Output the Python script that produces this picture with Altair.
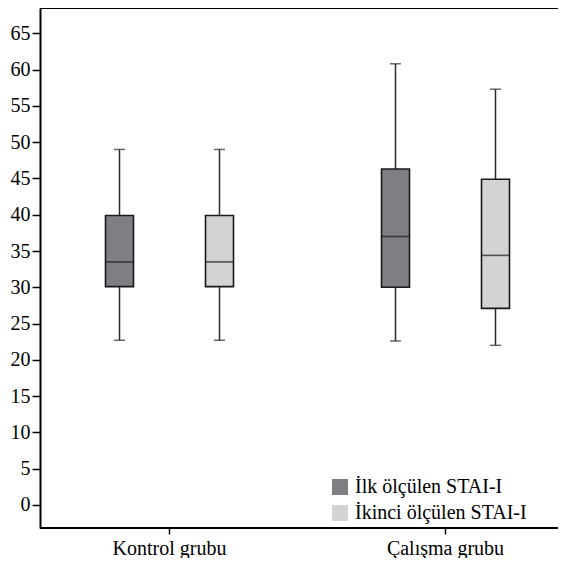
import altair as alt
import pandas as pd

groups = ["Kontrol grubu", "Kontrol grubu", "Çalışma grubu", "Çalışma grubu"]
series = ["İlk ölçülen STAI-I", "İkinci ölçülen STAI-I", "İlk ölçülen STAI-I", "İkinci ölçülen STAI-I"]
mins = [22.7, 22.7, 22.6, 22.0]
q1s = [30.1, 30.1, 30.0, 27.1]
medians = [33.5, 33.5, 37.0, 34.4]
q3s = [39.9, 39.9, 46.3, 44.9]
maxs = [49.0, 49.0, 60.8, 57.3]

group_order = ["Kontrol grubu", "Çalışma grubu"]
series_order = ["İlk ölçülen STAI-I", "İkinci ölçülen STAI-I"]
y_ticks = list(range(0, 70, 5))

df = pd.DataFrame({
    "group": groups, "series": series, "min": mins, "q1": q1s,
    "median": medians, "q3": q3s, "max": maxs,
})

W, H = 518, 520
FONT = "Times New Roman"

x_axis = alt.Axis(title=None, domain=False, labelAngle=0, labelFont=FONT, labelFontSize=20,
                  labelColor="black", tickColor="black", tickSize=6, tickWidth=1.5,
                  labelPadding=4, grid=False, labelOverlap=False)
x_enc = alt.X("group:N", sort=group_order,
              scale=alt.Scale(domain=group_order, range=[-8.5, 543.5], paddingInner=0, paddingOuter=0),
              axis=x_axis)
xo_enc = alt.XOffset("series:N", sort=series_order,
                     scale=alt.Scale(domain=series_order, paddingInner=0, paddingOuter=0.38))
y_scale = alt.Scale(domain=[-3.17, 68.49], nice=False, zero=False)
y_axis = alt.Axis(title=None, values=y_ticks, tickCount=14, labelFont=FONT, labelFontSize=20,
                  labelColor="black", tickColor="black", tickSize=8, tickWidth=1.5,
                  domainColor="black", domainWidth=2, labelPadding=2, grid=False, labelOverlap=False)


def yq(field):
    return alt.Y(f"{field}:Q", scale=y_scale, axis=y_axis)


base = alt.Chart(df)

whiskers = base.mark_rule(color="#2a2a2a", strokeWidth=1.5).encode(
    x=x_enc, xOffset=xo_enc, y=yq("min"), y2="max:Q")

caps_lo = base.mark_tick(color="#2a2a2a", size=11, thickness=1.5).encode(
    x=x_enc, xOffset=xo_enc, y=yq("min"))
caps_hi = base.mark_tick(color="#2a2a2a", size=11, thickness=1.5).encode(
    x=x_enc, xOffset=xo_enc, y=yq("max"))

boxes = base.mark_bar(size=28, stroke="#1a1a1a", strokeWidth=1.6).encode(
    x=x_enc, xOffset=xo_enc,
    y=yq("q1"), y2="q3:Q",
    color=alt.Color("series:N", sort=series_order,
                    scale=alt.Scale(domain=series_order, range=["#7f7f83", "#d3d3d5"]),
                    legend=alt.Legend(title=None, orient="none", legendX=290, legendY=469,
                                      symbolType="square", symbolSize=256, symbolStrokeWidth=0,
                                      labelFont=FONT, labelFontSize=20, labelColor="black",
                                      rowPadding=6, labelOffset=5, labelLimit=400)))

med_ticks = base.mark_tick(color="#1a1a1a", size=28, thickness=1.6).encode(
    x=x_enc, xOffset=xo_enc, y=yq("median"))

frame_df = pd.DataFrame({"k": [0]})
top_line = alt.Chart(frame_df).mark_rule(color="black", strokeWidth=2).encode(
    x=alt.value(0), x2=alt.value(W), y=alt.value(0))
bottom_line = alt.Chart(frame_df).mark_rule(color="black", strokeWidth=2).encode(
    x=alt.value(0), x2=alt.value(W), y=alt.value(H))

chart = alt.layer(whiskers, caps_lo, caps_hi, boxes, med_ticks, top_line, bottom_line).properties(
    width=W, height=H,
    autosize=alt.AutoSizeParams(type="none"),
    padding={"left": 32, "top": 0, "right": 0, "bottom": 30},
).configure_view(stroke=None).configure(background="white", font=FONT).configure_axisY(
    labelOverlap=False
)

chart.save("out.html", embed_options={"renderer": "svg", "actions": False})
